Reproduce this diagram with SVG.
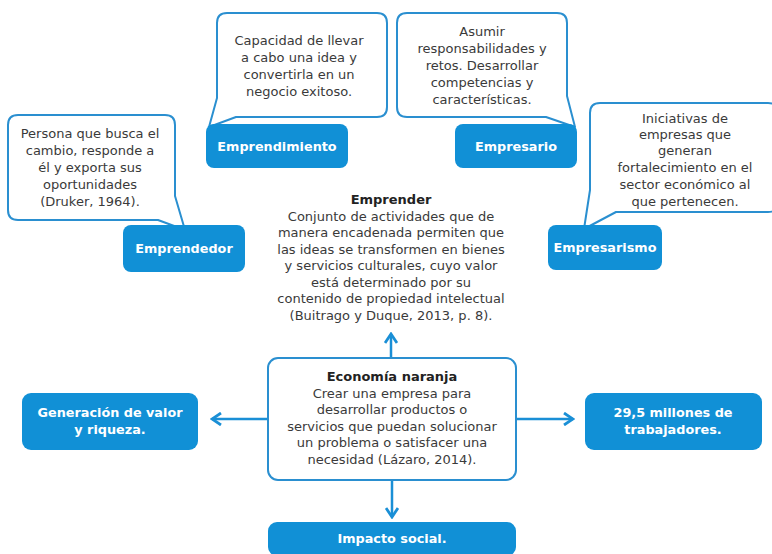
<svg xmlns="http://www.w3.org/2000/svg" width="772" height="554" viewBox="0 0 772 554">
<defs>
<style>
.bub{fill:#fff;stroke:#2a8fd0;stroke-width:2;stroke-linejoin:round}
.btn{fill:#1190d6}
.t{font-family:"DejaVu Sans","Noto Sans",sans-serif;font-size:13px;fill:#3a3a3a;text-anchor:middle}
.b{font-weight:bold;fill:#222}
.w{font-family:"DejaVu Sans","Noto Sans",sans-serif;font-size:12.8px;fill:#fff;text-anchor:middle;font-weight:bold}
.con{stroke:#1a8fd6;stroke-width:2.5;fill:none}
</style>
<marker id="ah" viewBox="0 0 12 14" refX="10" refY="7" markerWidth="12" markerHeight="14" markerUnits="userSpaceOnUse" orient="auto">
<path d="M1 1 L10 7 L1 13" fill="none" stroke="#1a8fd6" stroke-width="2.8" stroke-linejoin="miter"/>
</marker>
</defs>
<rect width="772" height="554" fill="#fff"/>

<g id="emprendimiento">
<path class="bub" d="M227 13 H377 Q387 13 387 23 V107 Q387 117 377 117 H236 L209 127 L217 98 V23 Q217 13 227 13 Z"/>
<text class="t" x="299" y="45">Capacidad de llevar</text>
<text class="t" x="299" y="62">a cabo una idea y</text>
<text class="t" x="299" y="79">convertirla en un</text>
<text class="t" x="299" y="96">negocio exitoso.</text>
<rect class="btn" x="206" y="124" width="142" height="44" rx="8"/>
<text class="w" x="277" y="151">Emprendimiento</text>
</g>

<g id="empresario">
<path class="bub" d="M407 13 H557 Q567 13 567 23 V96 L575 127 L546 117 H407 Q397 117 397 107 V23 Q397 13 407 13 Z"/>
<text class="t" x="482" y="36">Asumir</text>
<text class="t" x="482" y="53">responsabilidades y</text>
<text class="t" x="482" y="70">retos. Desarrollar</text>
<text class="t" x="482" y="87">competencias  y</text>
<text class="t" x="482" y="104">características.</text>
<rect class="btn" x="455" y="124" width="122" height="44" rx="8"/>
<text class="w" x="516" y="151">Empresario</text>
</g>

<g id="emprendedor">
<path class="bub" d="M18 115 H165 Q175 115 175 125 V196 L185 230 L158 220 H18 Q8 220 8 210 V125 Q8 115 18 115 Z"/>
<text class="t" x="90" y="138">Persona que busca el</text>
<text class="t" x="90" y="155">cambio, responde a</text>
<text class="t" x="90" y="172">él y exporta sus</text>
<text class="t" x="90" y="189">oportunidades</text>
<text class="t" x="90" y="206">(Druker, 1964).</text>
<rect class="btn" x="123" y="225" width="122" height="47" rx="8"/>
<text class="w" x="184" y="253">Emprendedor</text>
</g>

<g id="empresarismo">
<path class="bub" d="M600 103 H768 Q778 103 778 113 V202 Q778 212 768 212 H616 L584 229 L590 190 V113 Q590 103 600 103 Z"/>
<text class="t" x="685" y="123">Iniciativas  de</text>
<text class="t" x="685" y="139">empresas que</text>
<text class="t" x="685" y="155">generan</text>
<text class="t" x="685" y="172">fortalecimiento en el</text>
<text class="t" x="685" y="189">sector económico al</text>
<text class="t" x="685" y="206">que pertenecen.</text>
<rect class="btn" x="548" y="225" width="114" height="45" rx="8"/>
<text class="w" x="605" y="252">Empresarismo</text>
</g>

<g id="emprender">
<text class="t b" x="391" y="204">Emprender</text>
<text class="t" x="391" y="221">Conjunto de actividades que de</text>
<text class="t" x="391" y="237">manera encadenada permiten que</text>
<text class="t" x="391" y="254">las ideas se transformen en bienes</text>
<text class="t" x="391" y="270">y servicios culturales, cuyo valor</text>
<text class="t" x="391" y="287">está determinado por su</text>
<text class="t" x="391" y="303">contenido de propiedad intelectual</text>
<text class="t" x="391" y="320">(Buitrago y Duque, 2013, p. 8).</text>
</g>

<g id="economia">
<rect x="268" y="358" width="248" height="122" rx="10" fill="#fff" stroke="#2a8fd0" stroke-width="2"/>
<text class="t b" x="392" y="381">Economía naranja</text>
<text class="t" x="392" y="398">Crear una empresa para</text>
<text class="t" x="392" y="414">desarrollar productos o</text>
<text class="t" x="392" y="431">servicios que puedan solucionar</text>
<text class="t" x="392" y="447">un problema o satisfacer una</text>
<text class="t" x="392" y="464">necesidad (Lázaro, 2014).</text>
</g>

<g id="generacion">
<rect class="btn" x="22" y="393" width="176" height="57" rx="9"/>
<text class="w" x="110" y="417">Generación de valor</text>
<text class="w" x="110" y="434">y riqueza.</text>
</g>

<g id="trabajadores">
<rect class="btn" x="585" y="393" width="177" height="57" rx="9"/>
<text class="w" x="673" y="417">29,5 millones de</text>
<text class="w" x="673" y="434">trabajadores.</text>
</g>

<g id="impacto">
<rect class="btn" x="268" y="522" width="248" height="34" rx="9"/>
<text class="w" x="392" y="543">Impacto social.</text>
</g>

<g id="connectors">
<line class="con" x1="391" y1="357" x2="391" y2="334" marker-end="url(#ah)"/>
<line class="con" x1="267" y1="419" x2="212" y2="419" marker-end="url(#ah)"/>
<line class="con" x1="517" y1="419" x2="573" y2="419" marker-end="url(#ah)"/>
<line class="con" x1="392" y1="481" x2="392" y2="517" marker-end="url(#ah)"/>
</g>
</svg>
